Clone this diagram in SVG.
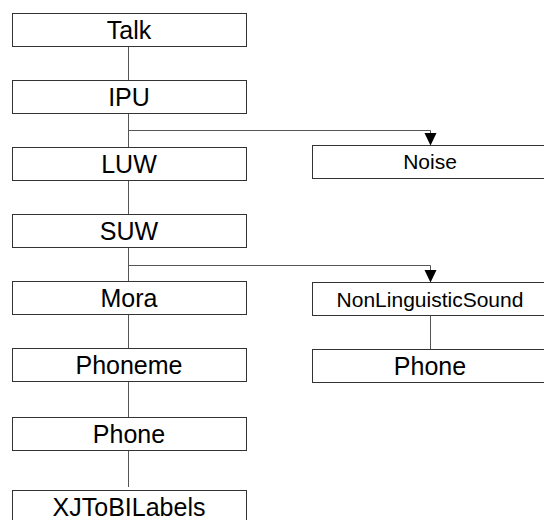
<svg xmlns="http://www.w3.org/2000/svg" width="544" height="520" viewBox="0 0 544 520">
<defs>
<style>
.box{fill:#fff;stroke:#333;stroke-width:1}
.t{font-family:"Liberation Sans",Arial,sans-serif;font-size:25px;fill:#000;text-anchor:middle}
.s{font-family:"Liberation Sans",Arial,sans-serif;font-size:21px;fill:#000;text-anchor:middle}
.c{fill:none;stroke:#555;stroke-width:1}
.ah{fill:#000;stroke:none}
</style>
</defs>
<rect width="544" height="520" fill="#fff"/>
<g id="connectors">
<path class="c" d="M128.5 46.5V80.5"/>
<path class="c" d="M128.5 113.5V147.5"/>
<path class="c" d="M128.5 180.5V214.5"/>
<path class="c" d="M128.5 247.5V281.5"/>
<path class="c" d="M128.5 314.5V348.5"/>
<path class="c" d="M128.5 381.5V417.5"/>
<path class="c" d="M128.5 451V487"/>
<path class="c" d="M128.5 130.5H430.5V134"/>
<polygon class="ah" points="424.5,133 436.5,133 430.5,145.5"/>
<path class="c" d="M128.5 265.5H430.5V270"/>
<polygon class="ah" points="424.5,270 436.5,270 430.5,282.5"/>
<path class="c" d="M430.5 315.5V349.5"/>
</g>
<g id="talk"><rect class="box" x="12.5" y="13.5" width="234" height="33"/><text class="t" x="129" y="39">Talk</text></g>
<g id="ipu"><rect class="box" x="12.5" y="80.5" width="234" height="33"/><text class="t" x="129" y="106">IPU</text></g>
<g id="luw"><rect class="box" x="12.5" y="147.5" width="234" height="33"/><text class="t" x="129" y="173">LUW</text></g>
<g id="suw"><rect class="box" x="12.5" y="214.5" width="234" height="33"/><text class="t" x="129" y="240">SUW</text></g>
<g id="mora"><rect class="box" x="12.5" y="281.5" width="234" height="33"/><text class="t" x="129" y="307">Mora</text></g>
<g id="phoneme"><rect class="box" x="12.5" y="348.5" width="234" height="33"/><text class="t" x="129" y="374">Phoneme</text></g>
<g id="phone"><rect class="box" x="12.5" y="417.5" width="234" height="33"/><text class="t" x="129" y="443">Phone</text></g>
<g id="xjtobilabels"><rect class="box" x="12.5" y="490.5" width="234" height="33"/><text class="t" x="129" y="516">XJToBILabels</text></g>
<g id="noise"><rect class="box" x="312.5" y="145.5" width="234" height="33"/><text class="s" x="430" y="169">Noise</text></g>
<g id="nonlinguisticsound"><rect class="box" x="312.5" y="282.5" width="234" height="33"/><text class="s" x="430" y="307">NonLinguisticSound</text></g>
<g id="phone2"><rect class="box" x="312.5" y="349.5" width="234" height="33"/><text class="t" x="430" y="375">Phone</text></g>
</svg>
